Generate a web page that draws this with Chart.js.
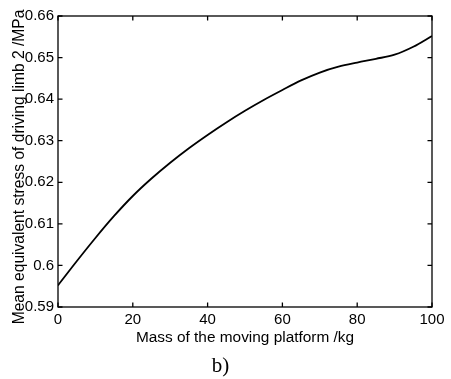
<!DOCTYPE html>
<html>
<head>
<meta charset="utf-8">
<script src="https://cdn.jsdelivr.net/npm/chart.js@4/dist/chart.umd.min.js"></script>
<style>
  html, body { margin: 0; padding: 0; background: #fff; }
  #wrap { width: 451px; height: 379px; position: relative; }
</style>
</head>
<body>
<div id="wrap"><canvas id="c" width="451" height="379"></canvas></div>
<script>
// Platform mass (kg) and mean equivalent stress of driving limb 2 (MPa)
const massKg = [0, 5, 10, 15, 20, 25, 30, 35, 40, 45, 50, 55, 60, 65, 70, 75, 80, 85, 90, 95, 100];
const stressMPa = [0.5952, 0.6010, 0.6066, 0.6119, 0.6167, 0.6209, 0.6247, 0.6282, 0.6314, 0.6344,
                   0.6372, 0.6398, 0.6422, 0.6445, 0.6464, 0.6478, 0.6488, 0.6497, 0.6507, 0.6526, 0.6552];
const xTicks = [0, 20, 40, 60, 80, 100];
const yTicks = [0.59, 0.60, 0.61, 0.62, 0.63, 0.64, 0.65, 0.66];

const xTitle = 'Mass of the moving platform /kg';
const yTitle = 'Mean equivalent stress of driving limb 2 /MPa';
const panelLabel = 'b)';

const SANS = '"Liberation Sans", Arial, sans-serif';
const SERIF = '"Liberation Serif", "Times New Roman", serif';

// Box frame with inward tick marks on all four sides, plus rotated y title and panel label
const framePlugin = {
  id: 'frame',
  afterDraw(chart) {
    const { ctx, chartArea: a, scales: { x, y } } = chart;
    const len = 4.5;
    ctx.save();
    ctx.strokeStyle = '#000';
    ctx.lineWidth = 1.3;
    ctx.strokeRect(a.left, a.top, a.right - a.left, a.bottom - a.top);
    ctx.beginPath();
    xTicks.forEach(v => {
      const px = x.getPixelForValue(v);
      ctx.moveTo(px, a.bottom); ctx.lineTo(px, a.bottom - len);
      ctx.moveTo(px, a.top); ctx.lineTo(px, a.top + len);
    });
    yTicks.forEach(v => {
      const py = y.getPixelForValue(v);
      ctx.moveTo(a.left, py); ctx.lineTo(a.left + len, py);
      ctx.moveTo(a.right, py); ctx.lineTo(a.right - len, py);
    });
    ctx.stroke();

    ctx.fillStyle = '#000';
    ctx.font = '15.6px ' + SANS;
    ctx.textAlign = 'center';
    ctx.textBaseline = 'middle';
    ctx.translate(19.5, 167);
    ctx.rotate(-Math.PI / 2);
    ctx.fillText(yTitle, 0, 0);
    ctx.restore();

    ctx.save();
    ctx.fillStyle = '#000';
    ctx.font = '21px ' + SERIF;
    ctx.textAlign = 'center';
    ctx.textBaseline = 'alphabetic';
    ctx.fillText(panelLabel, 220.5, 372);
    ctx.restore();
  }
};

new Chart(document.getElementById('c'), {
  type: 'line',
  data: {
    datasets: [{
      data: massKg.map((m, i) => ({ x: m, y: stressMPa[i] })),
      borderColor: '#000',
      borderWidth: 1.8,
      pointRadius: 0,
      fill: false,
      cubicInterpolationMode: 'monotone'
    }]
  },
  options: {
    responsive: false,
    animation: false,
    devicePixelRatio: 1,
    layout: { padding: { top: 16, right: 19, left: 0, bottom: 0 } },
    plugins: { legend: { display: false }, tooltip: { enabled: false } },
    scales: {
      x: {
        type: 'linear',
        min: 0, max: 100,
        afterBuildTicks: s => { s.ticks = xTicks.map(v => ({ value: v })); },
        afterFit: s => { s.height = 72; },
        grid: { display: false, drawTicks: false },
        border: { display: false },
        ticks: { color: '#000', padding: 4, font: { family: SANS, size: 15 }, maxRotation: 0 },
        title: {
          display: true, text: xTitle, color: '#000',
          font: { family: SANS, size: 15.4 },
          padding: { top: 0, bottom: 32 }
        }
      },
      y: {
        type: 'linear',
        min: 0.59, max: 0.66,
        afterBuildTicks: s => { s.ticks = yTicks.map(v => ({ value: v })); },
        afterFit: s => { s.width = 58; },
        grid: { display: false, drawTicks: false },
        border: { display: false },
        ticks: {
          color: '#000', padding: 4,
          font: { family: SANS, size: 15 },
          callback: v => String(parseFloat(v.toFixed(2)))
        }
      }
    }
  },
  plugins: [framePlugin]
});
</script>
</body>
</html>
